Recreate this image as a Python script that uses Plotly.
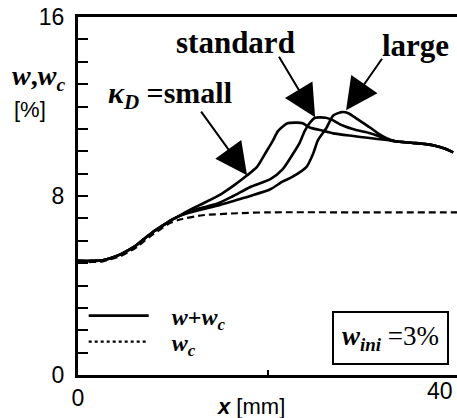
import plotly.graph_objects as go

# ---- data ----
common_x = [0, 1.5, 2.6, 3.4, 4.4, 5.3, 6.2, 7.0, 7.9, 8.8, 9.7, 10.5]
common_y = [5.1, 5.1, 5.13, 5.22, 5.38, 5.58, 5.82, 6.1, 6.4, 6.65, 6.9, 7.08]

tail_x = [33.3, 35.0, 36.5, 37.5, 38.5, 39.4]
tail_y = [10.45, 10.38, 10.32, 10.25, 10.12, 9.95]

small_x = [11.4, 12.8, 14.9, 16.3, 17.7, 18.8, 19.8, 20.5, 21.0, 22.0, 23.0, 23.6, 24.4, 25.4, 26.8, 28.9, 30.4, 32.5]
small_y = [7.3, 7.6, 8.05, 8.45, 8.9, 9.3, 10.0, 10.5, 10.9, 11.25, 11.28, 11.25, 11.05, 10.95, 10.8, 10.68, 10.6, 10.5]

standard_x = [11.4, 12.8, 14.6, 16.3, 18.1, 20.2, 21.5, 22.6, 23.3, 23.8, 24.4, 24.9, 26.0, 26.6, 27.8, 29.2, 30.7, 32.4]
standard_y = [7.25, 7.45, 7.65, 8.0, 8.4, 8.75, 9.2, 9.9, 10.4, 10.9, 11.3, 11.5, 11.5, 11.42, 11.15, 10.95, 10.8, 10.55]

large_x = [11.4, 12.8, 14.9, 16.5, 18.1, 20.2, 21.5, 22.5, 24.0, 24.7, 25.2, 26.1, 26.8, 27.7, 28.4, 29.3, 30.7, 31.5, 32.4]
large_y = [7.22, 7.38, 7.6, 7.8, 8.0, 8.3, 8.65, 8.85, 9.3, 9.9, 10.5, 11.05, 11.6, 11.75, 11.7, 11.45, 11.05, 10.8, 10.58]

wc_x = [0, 1.5, 2.6, 3.4, 4.4, 5.3, 6.2, 7.0, 7.9, 8.8, 9.7, 10.7, 13.1, 16.7, 20.0, 30.0, 39.8]
wc_y = [5.05, 5.05, 5.08, 5.17, 5.3, 5.5, 5.72, 6.0, 6.3, 6.55, 6.8, 6.95, 7.14, 7.23, 7.27, 7.27, 7.27]

y_tickvals = list(range(0, 17))
y_ticktext = ["0"] + [""] * 7 + ["8"] + [""] * 7 + ["16"]
x_tickvals = [0, 20]
x_ticktext = ["0", ""]

SANS = "Liberation Sans Narrow, Liberation Sans, Arial Narrow, sans-serif"
SERIF = "Liberation Serif, Times New Roman, serif"

fig = go.Figure()

for i, (cx, cy) in enumerate([(small_x, small_y), (standard_x, standard_y), (large_x, large_y)]):
    fig.add_trace(go.Scatter(
        x=common_x + cx + tail_x, y=common_y + cy + tail_y,
        mode="lines", line=dict(color="black", width=2.6, shape="spline", smoothing=0.6),
        showlegend=(i == 0), name="&nbsp;&nbsp;&nbsp;<i>w</i>+<i>w</i><sub><i>c</i></sub>",
        legend="legend",
    ))

fig.add_trace(go.Scatter(
    x=wc_x, y=wc_y, mode="lines",
    line=dict(color="black", width=2.2, dash="7px,4px", shape="spline", smoothing=0.6),
    showlegend=False,
))
# legend-only entry for w_c (dotted sample)
fig.add_trace(go.Scatter(
    x=[None], y=[None], mode="lines",
    line=dict(color="black", width=2.2, dash="dot"),
    name="&nbsp;&nbsp;&nbsp;<i>w</i><sub><i>c</i></sub>",
    legend="legend2",
))

def px_x(p):
    return (p - 78) / 379

def px_y(p):
    return (375 - p) / 358

legend_font = dict(family=SERIF, size=24, color="black", weight="bold")

fig.update_layout(
    width=457, height=418,
    margin=dict(l=78, r=0, t=17, b=43, autoexpand=False),
    plot_bgcolor="white", paper_bgcolor="white",
    showlegend=True,
    legend=dict(
        x=0.015, y=px_y(316), xanchor="left", yanchor="middle",
        bgcolor="rgba(0,0,0,0)", itemwidth=60, tracegroupgap=0,
        font=legend_font,
    ),
    legend2=dict(
        x=0.015, y=px_y(342), xanchor="left", yanchor="middle",
        bgcolor="rgba(0,0,0,0)", itemwidth=60, tracegroupgap=0,
        font=legend_font,
    ),
    xaxis=dict(
        range=[0, 39.8], showgrid=False, zeroline=False, automargin=False,
        showline=True, linecolor="black", linewidth=3, mirror=True,
        tickvals=x_tickvals, ticktext=x_ticktext, ticklabeloverflow="allow",
        ticks="inside", ticklen=5, tickwidth=2, tickcolor="black",
        tickfont=dict(family=SANS, size=23, color="black"),
    ),
    yaxis=dict(
        range=[0, 16], showgrid=False, zeroline=False, automargin=False,
        showline=True, linecolor="black", linewidth=3, mirror=False,
        tickvals=y_tickvals, ticktext=y_ticktext, ticklabeloverflow="allow",
        ticks="inside", ticklen=10, tickwidth=2, tickcolor="black",
        ticklabelstandoff=6,
        tickfont=dict(family=SANS, size=23, color="black"),
    ),
)

ann = []
txt = dict(xref="paper", yref="paper", showarrow=False, xanchor="center", yanchor="middle")
# x-axis "40" label
ann.append(dict(x=px_x(440), y=px_y(391), text="40",
                font=dict(family=SANS, size=23, color="black"), **txt))
# axis titles
ann.append(dict(x=px_x(251), y=px_y(407), text="<b><i>x</i></b> [mm]",
                font=dict(family=SANS, size=22, color="black"), **txt))
ann.append(dict(x=px_x(38), y=px_y(78), text="<b><i>w</i>,<i>w</i><sub><i>c</i></sub></b>",
                font=dict(family=SERIF, size=28, color="black"), **txt))
ann.append(dict(x=px_x(30), y=px_y(110), text="[%]",
                font=dict(family=SANS, size=22, color="black"), **txt))
# curve labels
ann.append(dict(x=px_x(235), y=px_y(43), text="<b>standard</b>",
                font=dict(family=SERIF, size=31, color="black"), **txt))
ann.append(dict(x=px_x(415), y=px_y(45), text="<b>large</b>",
                font=dict(family=SERIF, size=31, color="black"), **txt))
ann.append(dict(x=px_x(170), y=px_y(95), text="<b><i>κ</i><sub><i>D</i></sub> =small</b>",
                font=dict(family=SERIF, size=30, color="black"), **txt))
# arrows
arrow_common = dict(text="", showarrow=True, arrowhead=2, arrowsize=3.2, arrowwidth=2,
                    arrowcolor="black", xref="x", yref="y")
ann.append(dict(x=17.75, y=8.93, ax=-47, ay=-65, **arrow_common))
ann.append(dict(x=24.9, y=11.52, ax=-37, ay=-62, **arrow_common))
ann.append(dict(x=28.15, y=11.83, ax=37, ay=-53, **arrow_common))
# w_ini box
ann.append(dict(x=px_x(390), y=px_y(338),
                text="<b><i>w</i></b><sub><b><i>ini</i></b></sub> <span style='font-family:Liberation Sans Narrow'>=3%</span>",
                bordercolor="black", borderwidth=2, borderpad=8, bgcolor="white",
                font=dict(family=SERIF, size=27, color="black"), **txt))
fig.update_layout(annotations=ann)

# remove the browser's default 8px body margin so the figure fills the window
fig.write_html("out.html", config={"displayModeBar": False},
               post_script="document.body.style.margin='0';")
